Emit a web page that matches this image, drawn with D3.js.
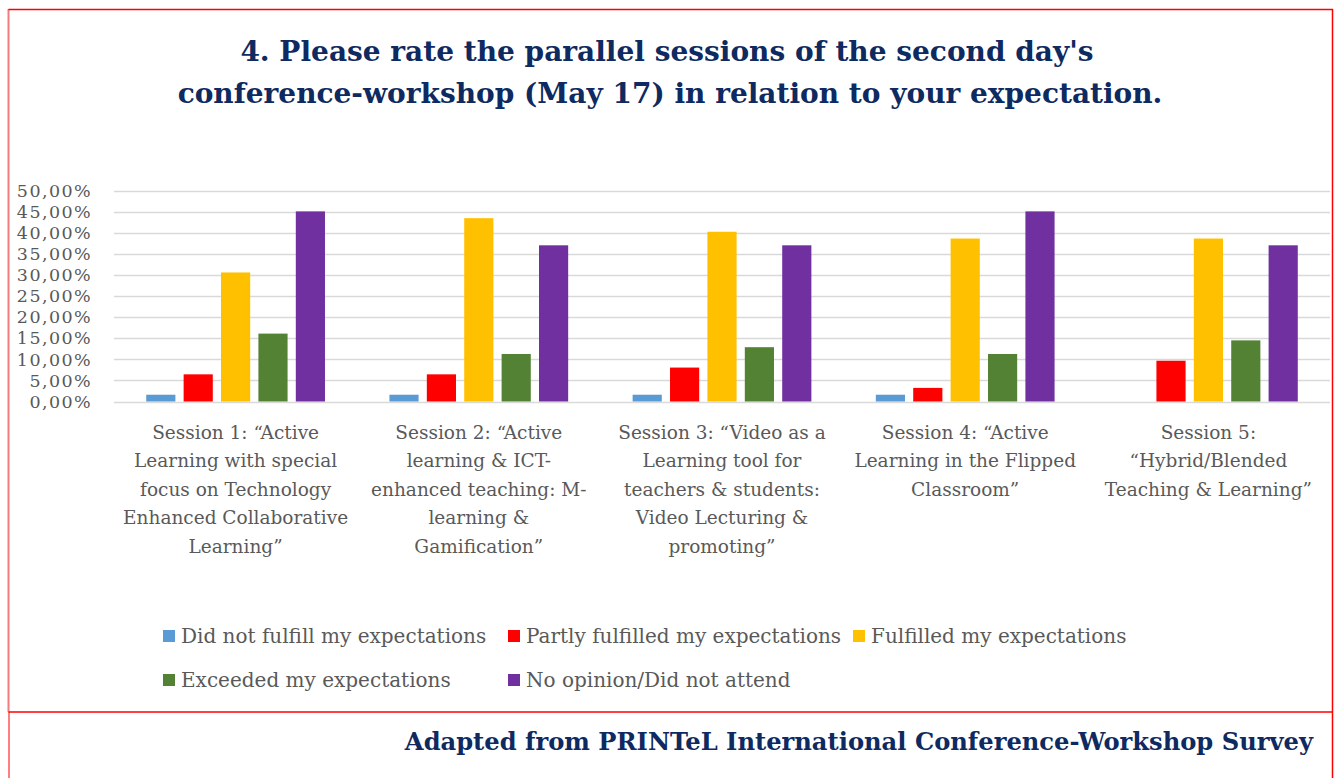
<!DOCTYPE html>
<html>
<head>
<meta charset="utf-8" />
<title>Parallel sessions rating</title>
<script src="https://cdn.jsdelivr.net/npm/d3@7"></script>
<style>
	body { margin: 0; background: #fff; }
	text { font-family: 'DejaVu Serif', serif; }
</style>
</head>
<body>
<script>
// sessions (category labels, pre-split into lines)
var sessions = [
	["Session 1: \u201cActive", "Learning with special", "focus on Technology", "Enhanced Collaborative", "Learning\u201d"],
	["Session 2: \u201cActive", "learning & ICT-", "enhanced teaching: M-", "learning &", "Gamification\u201d"],
	["Session 3: \u201cVideo as a", "Learning tool for", "teachers & students:", "Video Lecturing &", "promoting\u201d"],
	["Session 4: \u201cActive", "Learning in the Flipped", "Classroom\u201d"],
	["Session 5:", "\u201cHybrid/Blended", "Teaching & Learning\u201d"]
];
var seriesNames = ["Did not fulfill my expectations", "Partly fulfilled my expectations",
	"Fulfilled my expectations", "Exceeded my expectations", "No opinion/Did not attend"];
var seriesColors = ["#5b9bd5", "#ff0000", "#ffc000", "#548235", "#7030a0"];
// values per series, one per session (%)
var didNotFulfill = [1.61, 1.61, 1.61, 1.61, 0];
var partly       = [6.45, 6.45, 8.06, 3.23, 9.68];
var fulfilled    = [30.65, 43.55, 40.32, 38.71, 38.71];
var exceeded     = [16.13, 11.29, 12.90, 11.29, 14.52];
var noOpinion    = [45.16, 37.10, 37.10, 45.16, 37.10];
var allSeries = [didNotFulfill, partly, fulfilled, exceeded, noOpinion];
var yTicks = [0, 5, 10, 15, 20, 25, 30, 35, 40, 45, 50];

var W = 1335, H = 778;
var svg = d3.select("body").append("svg").attr("width", W).attr("height", H);

// frame
svg.append("line").attr("x1", 8.5).attr("x2", 8.5).attr("y1", 9).attr("y2", 712)
	.attr("stroke", "#f47c7c").attr("stroke-width", 2);
svg.append("line").attr("x1", 8.5).attr("x2", 1333).attr("y1", 9.5).attr("y2", 9.5)
	.attr("stroke", "#ff0000").attr("stroke-width", 1.5);
svg.append("line").attr("x1", 1332.5).attr("x2", 1332.5).attr("y1", 9).attr("y2", H)
	.attr("stroke", "#ff0000").attr("stroke-width", 1.5);
svg.append("line").attr("x1", 8.5).attr("x2", 1333).attr("y1", 712).attr("y2", 712)
	.attr("stroke", "#ff0000").attr("stroke-width", 1.5);
svg.append("line").attr("x1", 9).attr("x2", 9).attr("y1", 712).attr("y2", H)
	.attr("stroke", "#ff0000").attr("stroke-width", 1);

// title
var title = svg.append("text").attr("text-anchor", "middle")
	.attr("fill", "#0e2a60").style("font-weight", "bold").style("font-size", "28px");
title.append("tspan").attr("x", 667).attr("y", 61).text("4. Please rate the parallel sessions of the second day's");
title.append("tspan").attr("x", 670).attr("y", 103).text("conference-workshop (May 17) in relation to your expectation.");

// scales
var x0 = d3.scaleBand().domain(d3.range(sessions.length)).range([114, 1330])
	.paddingInner(0.265).paddingOuter(0.1325);
var x1 = d3.scaleBand().domain(d3.range(seriesNames.length)).range([0, x0.bandwidth()])
	.paddingInner(0.22);
var y = d3.scaleLinear().domain([0, 50]).range([401.5, 191]);

// gridlines
svg.append("g").selectAll("line").data(yTicks).join("line")
	.attr("x1", 114).attr("x2", 1330)
	.attr("y1", d => Math.round(y(d)) + 0.5).attr("y2", d => Math.round(y(d)) + 0.5)
	.attr("stroke", "#d9d9d9").attr("stroke-width", 1.3);

// y axis labels
var fmt = d => d.toFixed(2).replace(".", ",") + "%";
var yAxis = svg.append("g").attr("transform", "translate(92,0)")
	.call(d3.axisLeft(y).tickValues(yTicks).tickFormat(fmt).tickSize(0).tickPadding(0));
yAxis.select(".domain").remove();
yAxis.selectAll("text").attr("fill", "#595959").style("font-size", "17.5px")
	.style("letter-spacing", "1.4px")
	.style("font-family", "'DejaVu Serif', serif");

// bars
var groups = svg.append("g").selectAll("g").data(d3.range(sessions.length)).join("g")
	.attr("transform", i => "translate(" + x0(i) + ",0)");
groups.selectAll("rect")
	.data(i => allSeries.map((s, k) => ({ k: k, v: s[i] })).filter(d => d.v > 0))
	.join("rect")
	.attr("x", d => x1(d.k)).attr("width", x1.bandwidth())
	.attr("y", d => y(d.v)).attr("height", d => y(0) - y(d.v))
	.attr("fill", d => seriesColors[d.k]);

// category labels
var catText = svg.append("g").selectAll("text").data(sessions).join("text")
	.attr("text-anchor", "middle").attr("fill", "#595959").style("font-size", "18.5px");
catText.selectAll("tspan").data((d, i) => d.map(t => ({ t: t, i: i }))).join("tspan")
	.attr("x", d => x0(d.i) + x0.bandwidth() / 2)
	.attr("y", (d, j) => 439 + j * 28.4)
	.text(d => d.t);

// legend
var legPos = [[163, 636], [508, 636], [853, 636], [163, 680], [508, 680]];
var leg = svg.append("g").selectAll("g").data(seriesNames).join("g")
	.attr("transform", (d, i) => "translate(" + legPos[i][0] + "," + legPos[i][1] + ")");
leg.append("rect").attr("x", 0).attr("y", -6).attr("width", 12).attr("height", 12)
	.attr("fill", (d, i) => seriesColors[i]);
leg.append("text").attr("x", 18).attr("y", 7).attr("fill", "#595959")
	.style("font-size", "20px").text(d => d);

// footer
svg.append("text").attr("x", 1313).attr("y", 750).attr("text-anchor", "end")
	.attr("fill", "#0e2a60").style("font-weight", "bold").style("font-size", "24.2px")
	.text("Adapted from PRINTeL International Conference-Workshop Survey");
</script>
</body>
</html>
